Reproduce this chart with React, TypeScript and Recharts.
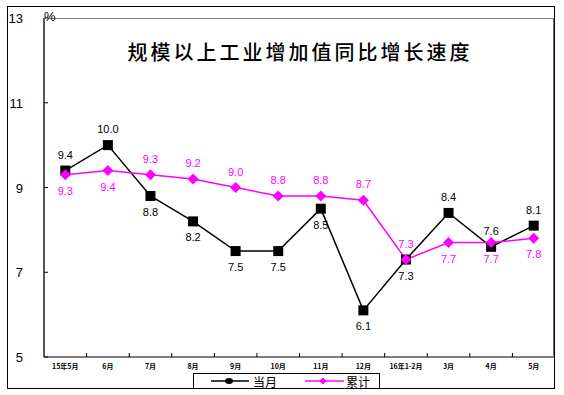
import React from "react";
import { LineChart, Line, XAxis, YAxis, LabelList } from "recharts";

const MONTHS = [
  "15年5月",
  "6月",
  "7月",
  "8月",
  "9月",
  "10月",
  "11月",
  "12月",
  "16年1-2月",
  "3月",
  "4月",
  "5月",
];
const MONTHLY = [9.4, 10.0, 8.8, 8.2, 7.5, 7.5, 8.5, 6.1, 7.3, 8.4, 7.6, 8.1];
const CUMULATIVE = [9.3, 9.4, 9.3, 9.2, 9.0, 8.8, 8.8, 8.7, 7.3, 7.7, 7.7, 7.8];
const Y_TICKS = [5, 7, 9, 11, 13];

// which side the value label sits on (true = above the point)
const MONTHLY_ABOVE = [true, true, false, false, false, false, false, false, false, true, true, true];
const CUMULATIVE_ABOVE = [false, false, true, true, true, true, true, true, true, false, false, false];

const data = MONTHS.map((m, i) => ({
  month: m,
  monthly: MONTHLY[i],
  cumulative: CUMULATIVE[i],
}));

const W = 564;
const H = 395;
const PLOT_LEFT = 44;
const PLOT_RIGHT = 555;
const PLOT_TOP = 18;
const PLOT_BOTTOM = 357;
const HALF_BAND = (PLOT_RIGHT - PLOT_LEFT) / MONTHS.length / 2;

const MAGENTA = "#ff00ff";
const FONT = "'Liberation Sans', Arial, sans-serif";
const CJK = "'Noto Sans CJK SC', sans-serif";

const SquareDot = (props: any) => {
  const { cx, cy } = props;
  if (cx == null || cy == null) return null;
  return <rect x={cx - 5} y={cy - 5} width={10} height={10} fill="#000" />;
};

const DiamondDot = (props: any) => {
  const { cx, cy } = props;
  if (cx == null || cy == null) return null;
  return (
    <path
      d={`M${cx},${cy - 5.5} L${cx + 5.5},${cy} L${cx},${cy + 5.5} L${cx - 5.5},${cy} Z`}
      fill={MAGENTA}
    />
  );
};

const makeLabel = (color: string, above: boolean[]) => (props: any) => {
  const { x, y, value, index } = props;
  const up = above[index];
  return (
    <text
      x={x}
      y={up ? y - 12 : y + 20}
      textAnchor="middle"
      fontSize={11}
      fontFamily={FONT}
      fill={color}
    >
      {Number(value).toFixed(1)}
    </text>
  );
};

const XTick = (props: any) => {
  const { x, payload, index } = props;
  return (
    <g>
      {index < MONTHS.length - 1 && (
        <line
          x1={x + HALF_BAND}
          x2={x + HALF_BAND}
          y1={PLOT_BOTTOM}
          y2={PLOT_BOTTOM - 4}
          stroke="#000"
        />
      )}
      <text
        x={x}
        y={PLOT_BOTTOM + 12}
        textAnchor="middle"
        fontSize={7}
        fontWeight="bold"
        fontFamily={CJK}
        fill="#000"
      >
        {payload.value}
      </text>
    </g>
  );
};

const YTick = (props: any) => {
  const { x, y, payload } = props;
  return (
    <g>
      <line x1={x} x2={x + 4} y1={y} y2={y} stroke="#000" />
      <text
        x={x - 21}
        y={y + 5}
        textAnchor="end"
        fontSize={13}
        fontFamily={FONT}
        fill="#000"
      >
        {payload.value}
      </text>
    </g>
  );
};

const LegendBox = () => (
  <div
    style={{
      position: "absolute",
      left: 193,
      top: 373,
      width: 187,
      height: 16,
      borderTop: "1px solid #000",
      borderLeft: "1px solid #000",
      borderRight: "1px solid #000",
      boxSizing: "border-box",
    }}
  >
    <svg width={186} height={15} style={{ position: "absolute", left: 0, top: 0, overflow: "visible" }}>
      <line x1={17} x2={55} y1={7} y2={7} stroke="#000" strokeWidth={1.5} />
      <ellipse cx={35} cy={7} rx={4} ry={3} fill="#000" />
      <text x={59} y={13} fontSize={12} fontFamily={CJK} fill="#000">
        当月
      </text>
      <line x1={111} x2={150} y1={7} y2={7} stroke={MAGENTA} strokeWidth={1.5} />
      <path d="M129,3.5 L132.5,7 L129,10.5 L125.5,7 Z" fill={MAGENTA} />
      <text x={152} y={13} fontSize={12} fontFamily={CJK} fill="#000">
        累计
      </text>
    </svg>
  </div>
);

export default function App() {
  return (
    <div
      style={{
        position: "absolute",
        left: 0,
        top: 0,
        width: W,
        height: H,
        background: "#fff",
        overflow: "hidden",
      }}
    >
      <LineChart
        width={W}
        height={H}
        data={data}
        margin={{ top: PLOT_TOP, right: W - PLOT_RIGHT, left: 0, bottom: 8 }}
      >
        <XAxis
          dataKey="month"
          interval={0}
          height={H - PLOT_BOTTOM - 8}
          padding={{ left: HALF_BAND, right: HALF_BAND }}
          axisLine={{ stroke: "#000" }}
          tickLine={false}
          tickSize={0}
          tick={<XTick />}
        />
        <YAxis
          domain={[5, 13]}
          ticks={Y_TICKS}
          width={PLOT_LEFT}
          axisLine={{ stroke: "#555", strokeWidth: 2 }}
          tickLine={false}
          tickSize={0}
          tickMargin={0}
          tick={<YTick />}
        />
        <Line
          type="linear"
          dataKey="monthly"
          stroke="#000"
          strokeWidth={1.5}
          dot={<SquareDot />}
          activeDot={false}
          isAnimationActive={false}
        >
          <LabelList dataKey="monthly" content={makeLabel("#000", MONTHLY_ABOVE)} />
        </Line>
        <Line
          type="linear"
          dataKey="cumulative"
          stroke={MAGENTA}
          strokeWidth={1.5}
          dot={<DiamondDot />}
          activeDot={false}
          isAnimationActive={false}
        >
          <LabelList dataKey="cumulative" content={makeLabel(MAGENTA, CUMULATIVE_ABOVE)} />
        </Line>
      </LineChart>
      <LegendBox />
      {/* plot frame: top and right edges */}
      <div
        style={{
          position: "absolute",
          left: PLOT_LEFT,
          top: PLOT_TOP,
          width: PLOT_RIGHT - PLOT_LEFT,
          height: PLOT_BOTTOM - PLOT_TOP,
          borderTop: "1px solid #808080",
          borderRight: "2px solid #707070",
          boxSizing: "border-box",
          pointerEvents: "none",
        }}
      />
      {/* outer frame */}
      <div
        style={{
          position: "absolute",
          left: 7,
          top: 6,
          width: 548,
          height: 383,
          border: "1px solid #000",
          boxSizing: "border-box",
          pointerEvents: "none",
        }}
      />
      <div
        style={{
          position: "absolute",
          left: 44,
          top: 9,
          fontFamily: FONT,
          fontSize: 13,
          color: "#000",
        }}
      >
        %
      </div>
      <div
        style={{
          position: "absolute",
          left: 0,
          width: 600,
          top: 37,
          textAlign: "center",
          fontFamily: CJK,
          fontSize: 20,
          fontWeight: 500,
          letterSpacing: 3,
          color: "#000",
        }}
      >
        规模以上工业增加值同比增长速度
      </div>
    </div>
  );
}
